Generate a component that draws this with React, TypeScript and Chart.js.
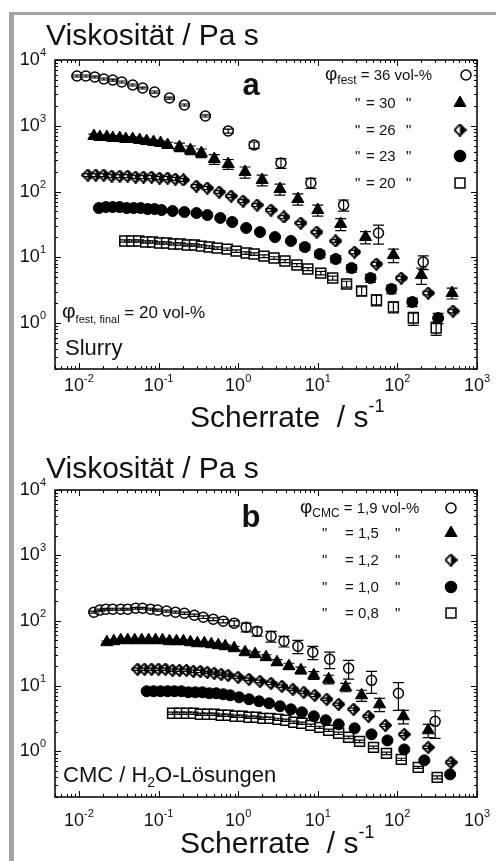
import React, { useEffect, useRef } from "react";
import { Chart, registerables } from "chart.js";
Chart.register(...registerables);

const FONT = '"Liberation Sans", Arial, Helvetica, sans-serif';

// ---------------- Panel a (Slurry) ----------------
const a36X = [0.00944, 0.0122, 0.0158, 0.0205, 0.0266, 0.0345, 0.0473, 0.0631, 0.0891, 0.137, 0.211, 0.387, 0.75, 1.585, 3.45, 8.18, 21.1, 57.9, 211];
const a36Y = [5710, 5710, 5510, 5140, 4960, 4630, 4170, 3750, 3260, 2640, 2070, 1410, 832, 510, 271, 135, 62.3, 23.4, 8.47];
const a36E = [200, 200, 190, 180, 175, 160, 145, 130, 115, 90, 72, 50, 58, 56, 46, 23, 12, 7.5, 2.0];

const a30X = [0.0154, 0.0183, 0.0224, 0.0266, 0.0325, 0.0387, 0.0473, 0.0579, 0.0708, 0.0866, 0.106, 0.13, 0.183, 0.251, 0.345, 0.501, 0.75, 1.22, 2.0, 3.35, 5.62, 10.0, 19.4, 39.8, 89.1, 200, 487];
const a30Y = [698, 674, 674, 651, 651, 629, 629, 607, 586, 566, 547, 510, 475, 428, 385, 312, 262, 198, 150, 109, 76.9, 52.3, 32.1, 20.3, 10.8, 5.37, 2.86];
const a30E = [49, 47, 47, 46, 46, 44, 44, 42, 41, 40, 38, 51, 71, 64, 58, 53, 45, 38, 28, 21, 15, 10, 6.7, 4.3, 2.5, 1.5, 0.54];

const a26X = [0.01296, 0.0163, 0.0205, 0.0259, 0.0326, 0.041, 0.0516, 0.0649, 0.0818, 0.103, 0.13, 0.163, 0.205, 0.299, 0.41, 0.579, 0.818, 1.155, 1.73, 2.59, 3.76, 6.13, 9.72, 16.8, 29.0, 54.6, 112, 244, 501];
const a26Y = [178, 178, 178, 172, 172, 172, 166, 166, 166, 160, 160, 155, 150, 121, 113, 98.3, 85.4, 71.7, 62.3, 52.3, 41.0, 33.2, 24.2, 17.7, 12.0, 7.89, 4.83, 2.86, 1.52];
const a26E = [9, 9, 9, 8.6, 8.6, 8.6, 8.3, 8.3, 8.3, 8, 8, 7.8, 7.5, 6, 5.7, 4.9, 4.3, 3.6, 3.1, 2.6, 2.1, 1.7, 1.3, 0.9, 0.7, 0.5, 0.3, 0.17, 0.09];

const a23X = [0.0178, 0.0218, 0.0266, 0.0325, 0.0398, 0.0487, 0.0596, 0.0729, 0.0891, 0.109, 0.15, 0.211, 0.299, 0.41, 0.596, 0.841, 1.26, 1.88, 2.9, 4.6, 6.88, 10.6, 16.8, 26.6, 46.0, 84.1, 154, 325];
const a23Y = [56.1, 58.1, 58.1, 58.1, 56.1, 56.1, 56.1, 54.2, 54.2, 52.3, 50.5, 48.8, 47.1, 43.9, 39.6, 34.4, 27.9, 24.2, 20.3, 17.7, 14.3, 11.2, 9.4, 6.86, 4.83, 3.29, 2.09, 1.19];
const a23E = [2.5, 2.5, 2.5, 2.5, 2.5, 2.5, 2.5, 2.4, 2.4, 2.3, 2.3, 2.2, 2.1, 2.0, 1.8, 1.6, 1.3, 1.2, 1.0, 0.9, 1.4, 1.3, 1.1, 0.9, 0.68, 0.5, 0.31, 0.21];

const a20X = [0.0376, 0.046, 0.0562, 0.0688, 0.0841, 0.103, 0.126, 0.154, 0.188, 0.23, 0.282, 0.345, 0.434, 0.546, 0.729, 0.944, 1.26, 1.585, 2.11, 2.82, 3.87, 5.47, 7.5, 10.9, 15.4, 23.0, 35.5, 54.6, 89.1, 158.5, 307];
const a20Y = [17.7, 17.7, 17.7, 17.1, 17.1, 16.5, 16.5, 15.9, 15.9, 15.4, 15.4, 14.8, 14.3, 13.8, 13.3, 12.4, 11.6, 11.2, 10.4, 9.74, 8.77, 7.62, 6.63, 5.75, 4.83, 3.92, 3.07, 2.24, 1.75, 1.19, 0.84];
const a20E = [0.7, 0.7, 0.7, 0.7, 0.7, 0.7, 0.7, 0.65, 0.65, 0.6, 0.6, 0.6, 0.6, 0.6, 0.55, 0.55, 0.5, 0.5, 0.5, 0.45, 0.45, 0.4, 0.35, 0.35, 0.35, 0.4, 0.46, 0.42, 0.33, 0.27, 0.19];

const aLegendPhi = ["36", "30", "26", "23", "20"];

// ---------------- Panel b (CMC) ----------------
const b19X = [0.0154, 0.0183, 0.0218, 0.0266, 0.0335, 0.041, 0.0516, 0.0631, 0.0794, 0.0972, 0.126, 0.163, 0.211, 0.282, 0.365, 0.487, 0.649, 0.891, 1.26, 1.73, 2.59, 3.76, 5.62, 8.66, 14.1, 24.4, 47.3, 103, 298];
const b19Y = [135, 145, 150, 150, 150, 150, 155, 155, 150, 145, 140, 135, 130, 121, 113, 105, 98.2, 91.5, 79.4, 69.0, 57.8, 48.5, 40.6, 32.9, 25.7, 18.7, 12.2, 7.74, 2.88];
const b19E = [5, 5, 5, 5, 5, 5, 5, 5, 5, 5, 5, 5, 5, 5, 5, 5, 6, 8, 12, 11, 11, 9, 9.3, 7.6, 7.2, 6, 4.5, 3.5, 1.3];

const b15X = [0.0224, 0.0274, 0.0335, 0.041, 0.0501, 0.0613, 0.075, 0.0917, 0.112, 0.137, 0.168, 0.205, 0.251, 0.307, 0.376, 0.46, 0.562, 0.688, 0.891, 1.22, 1.63, 2.24, 3.07, 4.34, 6.13, 8.91, 13.7, 22.4, 35.5, 59.6, 119, 244];
const b15Y = [46.8, 48.5, 50.3, 50.3, 50.3, 50.3, 50.3, 50.3, 50.3, 48.5, 48.5, 48.5, 46.8, 45.2, 45.2, 43.6, 42.1, 40.6, 37.9, 32.9, 30.7, 27.6, 23.1, 20.1, 17.4, 14.6, 12.7, 9.57, 7.21, 5.25, 3.44, 2.1];
const b15E = [2, 2, 2, 2, 2, 2, 2, 2, 2, 2, 2, 2, 2, 2, 2, 2, 2, 2, 2.3, 2.3, 2.5, 2.5, 2.3, 2.2, 2.1, 2.0, 1.9, 1.4, 1.4, 1.2, 0.8, 0.48];

const b12X = [0.0546, 0.0668, 0.0818, 0.1, 0.122, 0.15, 0.183, 0.224, 0.274, 0.335, 0.41, 0.501, 0.613, 0.75, 1.0, 1.37, 1.88, 2.59, 3.55, 4.87, 6.68, 9.17, 13.0, 18.3, 28.2, 43.4, 70.8, 122, 244, 473];
const b12Y = [18.1, 18.1, 18.1, 18.1, 18.1, 17.4, 17.4, 17.4, 16.8, 16.8, 16.2, 15.7, 15.1, 14.6, 13.6, 12.7, 11.8, 11.0, 9.91, 8.91, 8.02, 7.21, 6.27, 5.25, 4.4, 3.44, 2.5, 1.82, 1.15, 0.678];
const b12E = [0.7, 0.7, 0.7, 0.7, 0.7, 0.7, 0.7, 0.7, 0.7, 0.7, 0.6, 0.6, 0.6, 0.6, 0.55, 0.5, 0.5, 0.45, 0.4, 0.36, 0.32, 0.3, 0.25, 0.21, 0.18, 0.14, 0.1, 0.08, 0.05, 0.03];

const b10X = [0.0708, 0.0866, 0.106, 0.13, 0.1585, 0.194, 0.237, 0.29, 0.355, 0.434, 0.531, 0.649, 0.794, 1.03, 1.37, 1.83, 2.44, 3.35, 4.6, 6.31, 8.91, 12.6, 18.3, 29.0, 47.3, 75.0, 122, 218, 460];
const b10Y = [8.31, 8.31, 8.31, 8.31, 8.31, 8.31, 8.02, 8.02, 8.02, 7.74, 7.74, 7.48, 7.21, 6.72, 6.27, 5.84, 5.44, 4.9, 4.4, 3.96, 3.44, 2.99, 2.59, 2.25, 1.82, 1.47, 1.07, 0.728, 0.444];
const b10E = [0.33, 0.33, 0.33, 0.33, 0.33, 0.33, 0.32, 0.32, 0.32, 0.31, 0.31, 0.3, 0.29, 0.27, 0.25, 0.23, 0.22, 0.2, 0.18, 0.16, 0.14, 0.12, 0.1, 0.09, 0.08, 0.07, 0.05, 0.04, 0.02];

const b08X = [0.15, 0.183, 0.224, 0.274, 0.335, 0.41, 0.501, 0.613, 0.75, 0.917, 1.12, 1.37, 1.68, 2.05, 2.51, 3.16, 3.98, 5.01, 6.31, 8.18, 10.6, 13.7, 18.3, 24.4, 33.5, 50.1, 72.9, 112, 183, 316];
const b08Y = [3.82, 3.82, 3.82, 3.82, 3.69, 3.69, 3.69, 3.56, 3.56, 3.44, 3.44, 3.32, 3.32, 3.2, 3.2, 3.09, 2.99, 2.78, 2.69, 2.5, 2.33, 2.1, 1.89, 1.64, 1.42, 1.15, 0.932, 0.754, 0.569, 0.4];
const b08E = [0.15, 0.15, 0.15, 0.15, 0.15, 0.15, 0.15, 0.14, 0.14, 0.14, 0.14, 0.13, 0.13, 0.13, 0.13, 0.12, 0.12, 0.11, 0.11, 0.1, 0.09, 0.08, 0.08, 0.07, 0.06, 0.05, 0.04, 0.03, 0.02, 0.02];

const bLegendPhi = ["1,9", "1,5", "1,2", "1,0", "0,8"];

// ---------------- axes ----------------
const X_MIN = 0.005, X_MAX = 1000, Y_MIN = 0.2, Y_MAX = 10000;
const X_TICK_EXP = ["-2", "-1", "0", "1", "2", "3"];
const Y_TICK_EXP = ["0", "1", "2", "3", "4"];

type Seg = { t: string; size: number; dy?: number; bold?: boolean };
const fnt = (s: Seg) => `${s.bold ? "bold " : ""}${s.size}px ${FONT}`;

function drawRich(ctx: CanvasRenderingContext2D, x: number, y: number, segs: Seg[], align: "left" | "center" | "right" = "left") {
  const w = segs.map((s) => { ctx.font = fnt(s); return ctx.measureText(s.t).width; });
  const tot = w.reduce((a, b) => a + b, 0);
  let cx = align === "left" ? x : align === "center" ? x - tot / 2 : x - tot;
  ctx.textAlign = "left";
  ctx.textBaseline = "alphabetic";
  ctx.fillStyle = "#111";
  segs.forEach((s, i) => { ctx.font = fnt(s); ctx.fillText(s.t, cx, y + (s.dy || 0)); cx += w[i]; });
}

let HD: HTMLCanvasElement | null = null;
function halfDiamond() {
  if (HD) return HD;
  const size = 13;
  const c = document.createElement("canvas");
  c.width = size; c.height = size;
  const g = c.getContext("2d")!;
  const h = size / 2;
  g.beginPath(); g.moveTo(h, 0.8); g.lineTo(size - 0.8, h); g.lineTo(h, size - 0.8); g.lineTo(0.8, h); g.closePath();
  g.fillStyle = "#fff"; g.fill();
  g.save(); g.clip(); g.fillStyle = "#000"; g.fillRect(h, 0, h, size); g.restore();
  g.strokeStyle = "#000"; g.lineWidth = 1.8; g.stroke();
  HD = c;
  return c;
}

type Mark = "oc" | "tri" | "hd" | "fc" | "sq";
function markStyle(m: Mark): any {
  switch (m) {
    case "oc": return { pointStyle: "circle", pointRadius: 5, pointBackgroundColor: "#fff", pointBorderColor: "#000", pointBorderWidth: 1.5 };
    case "tri": return { pointStyle: "triangle", pointRadius: 7, pointBackgroundColor: "#000", pointBorderColor: "#000", pointBorderWidth: 1 };
    case "hd": return { pointStyle: halfDiamond(), pointRadius: 6 };
    case "fc": return { pointStyle: "circle", pointRadius: 5.5, pointBackgroundColor: "#000", pointBorderColor: "#000", pointBorderWidth: 1 };
    case "sq": return { pointStyle: "rect", pointRadius: 7, pointBackgroundColor: "#fff", pointBorderColor: "#000", pointBorderWidth: 1.5 };
  }
}

function drawMark(ctx: CanvasRenderingContext2D, m: Mark, x: number, y: number) {
  ctx.save();
  ctx.strokeStyle = "#000";
  ctx.fillStyle = "#000";
  if (m === "oc" || m === "fc") {
    ctx.beginPath(); ctx.arc(x, y, m === "oc" ? 5 : 5.5, 0, Math.PI * 2);
    ctx.fillStyle = m === "oc" ? "#fff" : "#000"; ctx.fill(); ctx.lineWidth = 1.5; ctx.stroke();
  } else if (m === "tri") {
    const r = 7;
    ctx.beginPath(); ctx.moveTo(x, y - r); ctx.lineTo(x + r * 0.866, y + r / 2); ctx.lineTo(x - r * 0.866, y + r / 2); ctx.closePath();
    ctx.fill(); ctx.lineWidth = 1; ctx.stroke();
  } else if (m === "sq") {
    const s = 4.95;
    ctx.fillStyle = "#fff"; ctx.fillRect(x - s, y - s, 2 * s, 2 * s);
    ctx.lineWidth = 1.5; ctx.strokeRect(x - s, y - s, 2 * s, 2 * s);
  } else {
    const img = halfDiamond();
    ctx.drawImage(img, x - img.width / 2, y - img.height / 2);
  }
  ctx.restore();
}

type Series = { x: number[]; y: number[]; e: number[]; mark: Mark };
type PanelCfg = {
  height: number; padTop: number; padBottom: number;
  series: Series[];
  xLabelBase: number;
  texts: (ctx: CanvasRenderingContext2D) => void;
};

function decorPlugin(cfg: PanelCfg) {
  return {
    id: "decor",
    afterDatasetsDraw(chart: any) {
      const ctx: CanvasRenderingContext2D = chart.ctx;
      const xs = chart.scales.x, ys = chart.scales.y;
      ctx.save();
      ctx.strokeStyle = "#000";
      ctx.lineWidth = 1.2;
      cfg.series.forEach((s) => {
        s.x.forEach((xv, j) => {
          const e = s.e[j];
          if (!e) return;
          const px = xs.getPixelForValue(xv);
          const yT = ys.getPixelForValue(s.y[j] + e);
          const yB = ys.getPixelForValue(Math.max(s.y[j] - e, s.y[j] * 0.05));
          ctx.beginPath();
          ctx.moveTo(px, yT); ctx.lineTo(px, yB);
          ctx.moveTo(px - 5.5, yT); ctx.lineTo(px + 5.5, yT);
          ctx.moveTo(px - 5.5, yB); ctx.lineTo(px + 5.5, yB);
          ctx.stroke();
        });
      });
      ctx.restore();
    },
    afterDraw(chart: any) {
      const ctx: CanvasRenderingContext2D = chart.ctx;
      const a = chart.chartArea;
      const xs = chart.scales.x, ys = chart.scales.y;
      ctx.save();
      ctx.strokeStyle = "#000";
      ctx.lineWidth = 1.5;
      ctx.strokeRect(a.left, a.top, a.right - a.left, a.bottom - a.top);
      ctx.lineWidth = 1;
      ctx.beginPath();
      for (let k = -3; k <= 3; k++) {
        for (let m = 1; m <= 9; m++) {
          const v = m * Math.pow(10, k);
          if (v < X_MIN * 0.999 || v > X_MAX * 1.001) continue;
          const p = Math.round(xs.getPixelForValue(v)) + 0.5;
          const len = m === 1 ? 6 : 3;
          ctx.moveTo(p, a.bottom); ctx.lineTo(p, a.bottom - len);
          ctx.moveTo(p, a.top); ctx.lineTo(p, a.top + len);
        }
      }
      for (let k = -1; k <= 4; k++) {
        for (let m = 1; m <= 9; m++) {
          const v = m * Math.pow(10, k);
          if (v < Y_MIN * 0.999 || v > Y_MAX * 1.001) continue;
          const p = Math.round(ys.getPixelForValue(v)) + 0.5;
          const len = m === 1 ? 6 : 3;
          ctx.moveTo(a.left, p); ctx.lineTo(a.left + len, p);
          ctx.moveTo(a.right, p); ctx.lineTo(a.right - len, p);
        }
      }
      ctx.stroke();
      // tick labels
      X_TICK_EXP.forEach((ex) => {
        const p = xs.getPixelForValue(Math.pow(10, Number(ex)));
        drawRich(ctx, p, cfg.xLabelBase, [{ t: "10", size: 18 }, { t: ex, size: 11, dy: -9 }], "center");
      });
      Y_TICK_EXP.forEach((ex) => {
        const p = ys.getPixelForValue(Math.pow(10, Number(ex)));
        drawRich(ctx, 46, p + 5, [{ t: "10", size: 18 }, { t: ex, size: 11, dy: -9 }], "right");
      });
      cfg.texts(ctx);
      ctx.restore();
    },
  };
}

const MARKS: Mark[] = ["oc", "tri", "hd", "fc", "sq"];

const PANEL_A: PanelCfg = {
  height: 435, padTop: 60, padBottom: 66, xLabelBase: 391,
  series: [
    { x: a36X, y: a36Y, e: a36E, mark: "oc" },
    { x: a30X, y: a30Y, e: a30E, mark: "tri" },
    { x: a26X, y: a26Y, e: a26E, mark: "hd" },
    { x: a23X, y: a23Y, e: a23E, mark: "fc" },
    { x: a20X, y: a20Y, e: a20E, mark: "sq" },
  ],
  texts: (ctx) => {
    drawRich(ctx, 46, 45, [{ t: "Viskosität / Pa s", size: 30 }]);
    drawRich(ctx, 251, 95, [{ t: "a", size: 31, bold: true }], "center");
    const rows = [80, 108, 135, 161, 188];
    rows.forEach((b, i) => {
      if (i === 0) {
        drawRich(ctx, 325, b, [{ t: "φ", size: 19 }, { t: "fest", size: 12, dy: 4 }, { t: " = " + aLegendPhi[0] + " vol-%", size: 15 }]);
      } else {
        drawRich(ctx, 355, b, [{ t: '"', size: 15 }]);
        drawRich(ctx, 366, b, [{ t: "= " + aLegendPhi[i], size: 15 }]);
        drawRich(ctx, 406, b, [{ t: '"', size: 15 }]);
      }
      drawMark(ctx, MARKS[i], i === 0 ? 466 : 460, b - 5);
    });
    drawRich(ctx, 62, 318, [{ t: "φ", size: 21 }, { t: "fest, final", size: 11, dy: 5 }, { t: " = 20 vol-%", size: 17 }]);
    drawRich(ctx, 65, 355, [{ t: "Slurry", size: 22 }]);
    drawRich(ctx, 190, 427, [{ t: "Scherrate  / s", size: 30 }, { t: "-1", size: 18, dy: -15 }]);
  },
};

const PANEL_B: PanelCfg = {
  height: 426, padTop: 55, padBottom: 64, xLabelBase: 391,
  series: [
    { x: b19X, y: b19Y, e: b19E, mark: "oc" },
    { x: b15X, y: b15Y, e: b15E, mark: "tri" },
    { x: b12X, y: b12Y, e: b12E, mark: "hd" },
    { x: b10X, y: b10Y, e: b10E, mark: "fc" },
    { x: b08X, y: b08Y, e: b08E, mark: "sq" },
  ],
  texts: (ctx) => {
    drawRich(ctx, 46, 43, [{ t: "Viskosität / Pa s", size: 30 }]);
    drawRich(ctx, 251, 92, [{ t: "b", size: 31, bold: true }], "center");
    const rows = [78, 103, 130, 157, 183];
    rows.forEach((b, i) => {
      if (i === 0) {
        drawRich(ctx, 300, b, [{ t: "φ", size: 19 }, { t: "CMC", size: 12, dy: 4 }, { t: " = " + bLegendPhi[0] + " vol-%", size: 15 }]);
      } else {
        drawRich(ctx, 322, b, [{ t: '"', size: 15 }]);
        drawRich(ctx, 345, b, [{ t: "= " + bLegendPhi[i], size: 15 }]);
        drawRich(ctx, 395, b, [{ t: '"', size: 15 }]);
      }
      drawMark(ctx, MARKS[i], 451, b - 5);
    });
    drawRich(ctx, 63, 347, [{ t: "CMC / H", size: 22 }, { t: "2", size: 14, dy: 5 }, { t: "O-Lösungen", size: 22 }]);
    drawRich(ctx, 180, 418, [{ t: "Scherrate  / s", size: 30 }, { t: "-1", size: 18, dy: -15 }]);
  },
};

function Panel({ cfg, top }: { cfg: PanelCfg; top: number }) {
  const ref = useRef<HTMLCanvasElement>(null);
  useEffect(() => {
    const canvas = ref.current!;
    const chart = new Chart(canvas, {
      type: "scatter",
      data: {
        datasets: cfg.series.map((s) => ({
          data: s.x.map((xv, j) => ({ x: xv, y: s.y[j] })),
          showLine: false,
          ...markStyle(s.mark),
        })),
      },
      options: {
        responsive: false,
        animation: false,
        devicePixelRatio: 1,
        events: [],
        layout: { padding: { left: 55, right: 19, top: cfg.padTop, bottom: cfg.padBottom } },
        plugins: { legend: { display: false }, tooltip: { enabled: false } },
        scales: {
          x: { type: "logarithmic", min: X_MIN, max: X_MAX, display: false },
          y: { type: "logarithmic", min: Y_MIN, max: Y_MAX, display: false },
        },
      },
      plugins: [decorPlugin(cfg)],
    } as any);
    return () => chart.destroy();
  }, [cfg]);
  return (
    <canvas
      ref={ref}
      width={496}
      height={cfg.height}
      style={{ position: "absolute", left: 0, top, width: 496, height: cfg.height }}
    />
  );
}

export default function App() {
  return (
    <div style={{ position: "absolute", left: 0, top: 0, width: 496, height: 861, background: "#fff", overflow: "hidden" }}>
      <div style={{ position: "absolute", left: 9, top: 12, width: 487, height: 3, background: "#a3a3a3" }} />
      <div style={{ position: "absolute", left: 9, top: 12, width: 5, height: 849, background: "#a3a3a3" }} />
      <Panel cfg={PANEL_A} top={0} />
      <Panel cfg={PANEL_B} top={435} />
    </div>
  );
}
